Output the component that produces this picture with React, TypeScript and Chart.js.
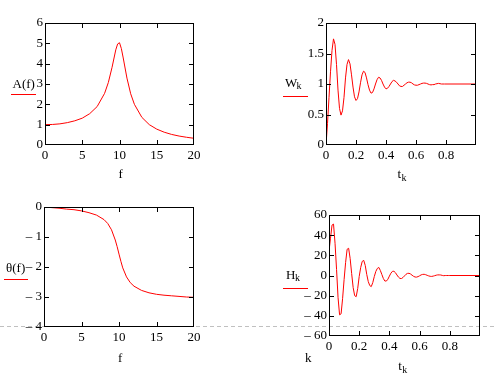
import React, { useEffect, useRef } from "react";
import { Chart, registerables } from "chart.js";

Chart.register(...registerables);

// ---- data ----
const frequency = [0, 1, 2, 3, 4, 5, 6, 7, 8, 8.5, 9, 9.5, 9.75, 10, 10.25, 10.5, 11, 11.5, 12, 13, 14, 15, 16, 17, 18, 19, 20];
const amplitude = [1.0, 1.01, 1.04, 1.1, 1.19, 1.32, 1.54, 1.89, 2.54, 3.07, 3.82, 4.68, 4.97, 5.03, 4.74, 4.28, 3.29, 2.52, 2.0, 1.36, 1.0, 0.78, 0.63, 0.52, 0.44, 0.38, 0.33];
const phase = [0, -0.02, -0.04, -0.07, -0.09, -0.13, -0.19, -0.27, -0.42, -0.55, -0.76, -1.1, -1.32, -1.57, -1.81, -2.03, -2.33, -2.52, -2.64, -2.78, -2.86, -2.91, -2.94, -2.96, -2.98, -3.0, -3.01];

const time = [
  0, 0.01, 0.02, 0.03, 0.04, 0.05, 0.06, 0.07, 0.08, 0.09,
  0.1, 0.11, 0.12, 0.13, 0.14, 0.15, 0.16, 0.17, 0.18, 0.19,
  0.2, 0.21, 0.22, 0.23, 0.24, 0.25, 0.26, 0.27, 0.28, 0.29,
  0.3, 0.31, 0.32, 0.33, 0.34, 0.35, 0.36, 0.37, 0.38, 0.39,
  0.4, 0.41, 0.42, 0.43, 0.44, 0.45, 0.46, 0.47, 0.48, 0.49,
  0.5, 0.51, 0.52, 0.53, 0.54, 0.55, 0.56, 0.57, 0.58, 0.59,
  0.6, 0.61, 0.62, 0.63, 0.64, 0.65, 0.66, 0.67, 0.68, 0.69,
  0.7, 0.71, 0.72, 0.73, 0.74, 0.75, 0.76, 0.77, 0.78, 0.79,
  0.8, 1.0,
];
const stepResponse = [
  0, 0.35, 0.78, 1.2, 1.55, 1.74, 1.65, 1.32, 0.9, 0.6,
  0.49, 0.56, 0.78, 1.1, 1.32, 1.4, 1.33, 1.15, 0.95, 0.79,
  0.73, 0.76, 0.87, 1.02, 1.15, 1.21, 1.19, 1.1, 0.99, 0.9,
  0.85, 0.86, 0.92, 1.0, 1.07, 1.11, 1.1, 1.06, 1.0, 0.95,
  0.92, 0.93, 0.96, 1.0, 1.04, 1.06, 1.05, 1.03, 1.0, 0.97,
  0.96, 0.96, 0.98, 1.0, 1.02, 1.03, 1.03, 1.02, 1.0, 0.985,
  0.98, 0.98, 0.99, 1.0, 1.01, 1.015, 1.015, 1.01, 1.0, 0.99,
  0.985, 0.99, 0.99, 1.0, 1.005, 1.01, 1.005, 1.0, 1.0, 1.0,
  1.0, 1.0,
];
const impulseResponse = [
  24, 37, 50, 51, 32, 6, -22, -39, -38, -23,
  -4, 13, 26, 27, 17, 2, -12, -20, -21, -13,
  -1, 8, 14, 15, 10, 1, -6, -10, -11, -7,
  -1, 4, 7, 8, 5, 1, -3, -5.5, -5.5, -3.7,
  -0.6, 2.3, 4.1, 4.2, 2.8, 0.5, -1.6, -2.9, -3.0, -2.0,
  -0.4, 1.2, 2.1, 2.2, 1.5, 0.3, -0.8, -1.5, -1.6, -1.1,
  -0.3, 0.6, 1.1, 1.2, 0.8, 0.2, -0.4, -0.8, -0.9, -0.6,
  -0.2, 0.3, 0.6, 0.6, 0.5, 0.1, -0.2, 0, 0, 0,
  0, 0,
];

const FONT = "'Liberation Serif', 'Times New Roman', serif";
const RED = "#ff0000";

const fmt = (v: number) => {
  const r = Math.round(v * 10) / 10;
  return r < 0 ? "\u2013 " + Math.abs(r) : String(r);
};

type Panel = {
  xs: number[];
  ys: number[];
  xMax: number;
  xStep: number;
  yMin: number;
  yMax: number;
  yStep: number;
  box: [number, number, number, number];
};

const PANELS: Panel[] = [
  { xs: frequency, ys: amplitude, xMax: 20, xStep: 5, yMin: 0, yMax: 6, yStep: 1, box: [45, 23, 149, 122] },
  { xs: time, ys: stepResponse, xMax: 1, xStep: 0.2, yMin: 0, yMax: 2, yStep: 0.5, box: [326, 23, 150, 122] },
  { xs: frequency, ys: phase, xMax: 20, xStep: 5, yMin: -4, yMax: 0, yStep: 1, box: [44, 207, 150, 120] },
  { xs: time, ys: impulseResponse, xMax: 1, xStep: 0.2, yMin: -60, yMax: 60, yStep: 20, box: [329, 215, 151, 121] },
];

const framePlugin = {
  id: "mathcadFrame",
  afterDraw(chart: any) {
    const { ctx, chartArea: a, scales } = chart;
    const x = scales.x;
    const y = scales.y;
    const L = 5;
    ctx.save();
    ctx.strokeStyle = "#000";
    ctx.lineWidth = 1;
    ctx.strokeRect(a.left + 0.5, a.top + 0.5, a.right - a.left - 1, a.bottom - a.top - 1);
    ctx.beginPath();
    x.ticks.forEach((t: any) => {
      const px = Math.round(x.getPixelForValue(t.value)) + 0.5;
      if (px <= a.left + 1.5 || px >= a.right - 1.5) return;
      ctx.moveTo(px, a.bottom);
      ctx.lineTo(px, a.bottom - L);
      ctx.moveTo(px, a.top);
      ctx.lineTo(px, a.top + L);
    });
    y.ticks.forEach((t: any) => {
      const py = Math.round(y.getPixelForValue(t.value)) + 0.5;
      if (py <= a.top + 1.5 || py >= a.bottom - 1.5) return;
      ctx.moveTo(a.left, py);
      ctx.lineTo(a.left + L, py);
      ctx.moveTo(a.right, py);
      ctx.lineTo(a.right - L, py);
    });
    ctx.stroke();
    ctx.restore();
  },
};

function mount(canvas: HTMLCanvasElement, p: Panel): Chart {
  canvas.width = p.box[2] + 70;
  canvas.height = p.box[3] + 50;
  const tickFont = { family: FONT, size: 13 };
  const chart = new Chart(canvas, {
    type: "line",
    data: {
      datasets: [
        {
          data: p.xs.map((x, i) => ({ x, y: p.ys[i] })),
          borderColor: RED,
          borderWidth: 1,
          pointRadius: 0,
          tension: 0,
          fill: false,
        },
      ],
    },
    options: {
      responsive: false,
      maintainAspectRatio: false,
      animation: false,
      events: [],
      plugins: { legend: { display: false }, tooltip: { enabled: false } },
      layout: { padding: { top: 10, right: 12, bottom: 4, left: 4 } },
      scales: {
        x: {
          type: "linear",
          min: 0,
          max: p.xMax,
          grid: { display: false, drawTicks: false },
          border: { display: false },
          afterFit: (s: any) => {
            s.height = 30;
          },
          ticks: {
            stepSize: p.xStep,
            font: tickFont,
            color: "#000",
            padding: 3,
            maxRotation: 0,
            autoSkip: false,
            callback: (v: any) => (p.xMax === 1 && v > 0.99 ? "" : fmt(Number(v))),
          },
        },
        y: {
          type: "linear",
          min: p.yMin,
          max: p.yMax,
          grid: { display: false, drawTicks: false },
          border: { display: false },
          afterFit: (s: any) => {
            s.width = 40;
          },
          ticks: {
            stepSize: p.yStep,
            font: tickFont,
            color: "#000",
            padding: 2,
            autoSkip: false,
            callback: (v: any) => fmt(Number(v)),
          },
        },
      },
    } as any,
    plugins: [framePlugin],
  });
  for (let i = 0; i < 4; i++) {
    const a = chart.chartArea;
    const dw = Math.round(p.box[2] - (a.right - a.left));
    const dh = Math.round(p.box[3] - (a.bottom - a.top));
    if (!dw && !dh) break;
    chart.resize(chart.width + dw, chart.height + dh);
  }
  const a = chart.chartArea;
  canvas.style.left = p.box[0] - a.left + "px";
  canvas.style.top = p.box[1] - a.top + "px";
  return chart;
}

function Txt(props: { x: number; base: number; size?: number; children: React.ReactNode }) {
  const size = props.size ?? 13;
  const top = props.base - size * 0.838;
  return (
    <span
      style={{
        position: "absolute",
        left: props.x,
        top,
        fontFamily: FONT,
        fontSize: size,
        lineHeight: size + "px",
        whiteSpace: "nowrap",
        color: "#000",
      }}
    >
      {props.children}
    </span>
  );
}

function RedLine(props: { x: number; y: number; w: number }) {
  return <div style={{ position: "absolute", left: props.x, top: props.y, width: props.w, height: 1, background: RED }} />;
}

export default function App() {
  const r0 = useRef<HTMLCanvasElement>(null);
  const r1 = useRef<HTMLCanvasElement>(null);
  const r2 = useRef<HTMLCanvasElement>(null);
  const r3 = useRef<HTMLCanvasElement>(null);
  const refs = [r0, r1, r2, r3];

  useEffect(() => {
    const charts = PANELS.map((p, i) => mount(refs[i].current as HTMLCanvasElement, p));
    return () => charts.forEach((c) => c.destroy());
  }, []);

  return (
    <div
      style={{
        position: "absolute",
        left: 0,
        top: 0,
        width: 494,
        height: 378,
        background: "#fff",
        overflow: "hidden",
      }}
    >
      <div
        style={{
          position: "absolute",
          left: 0,
          top: 326,
          width: 494,
          height: 1,
          background: "repeating-linear-gradient(to right, #c0c0c0 0px, #c0c0c0 4px, transparent 4px, transparent 7px)",
        }}
      />
      {refs.map((r, i) => (
        <canvas key={i} ref={r} style={{ position: "absolute", left: 0, top: 0, display: "block" }} />
      ))}

      {/* panel 1 */}
      <Txt x={12.5} base={87.5}>A(f)</Txt>
      <RedLine x={11} y={94} w={25} />
      <Txt x={118.5} base={178}>f</Txt>

      {/* panel 2 */}
      <Txt x={285} base={86.5}>W</Txt>
      <Txt x={296.5} base={89.5} size={10}>k</Txt>
      <RedLine x={283} y={96} w={25} />
      <Txt x={397.5} base={178}>t</Txt>
      <Txt x={401.5} base={181.5} size={10}>k</Txt>

      {/* panel 3 */}
      <Txt x={6} base={271.5}>θ(f)</Txt>
      <RedLine x={3.5} y={279} w={24} />
      <Txt x={118} base={361.5}>f</Txt>

      {/* panel 4 */}
      <Txt x={286} base={278.5}>H</Txt>
      <Txt x={295} base={281.5} size={10}>k</Txt>
      <RedLine x={283} y={288} w={25} />
      <Txt x={305} base={361.5}>k</Txt>
      <Txt x={398.3} base={370}>t</Txt>
      <Txt x={402.3} base={373.5} size={10}>k</Txt>
    </div>
  );
}
